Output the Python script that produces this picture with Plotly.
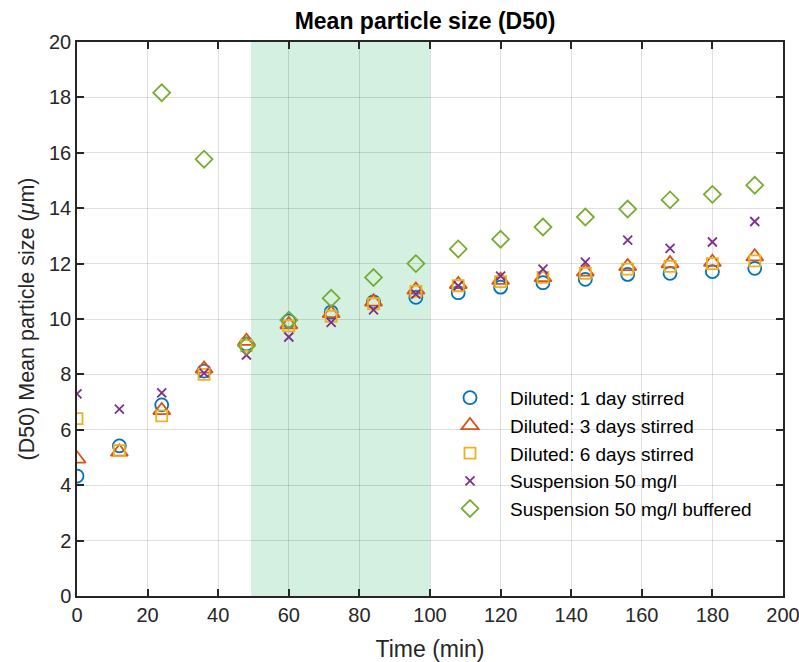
import plotly.graph_objects as go

# Sampling times (min)
time_min = [0, 12, 24, 36, 48, 60, 72, 84, 96, 108, 120, 132, 144, 156, 168, 180, 192]

# D50 values (um) per sample series
diluted_1day = [4.33, 5.42, 6.9, 8.12, 9.1, 9.93, 10.25, 10.62, 10.78, 10.95, 11.15, 11.31, 11.43, 11.61, 11.65, 11.71, 11.83]
diluted_3days = [4.95, 5.2, 6.7, 8.2, 9.2, 9.8, 10.2, 10.62, 11.05, 11.25, 11.4, 11.5, 11.7, 11.9, 12.0, 12.05, 12.25]
diluted_6days = [6.4, 5.25, 6.5, 8.0, 9.05, 9.75, 10.1, 10.55, 11.0, 11.2, 11.35, 11.5, 11.65, 11.8, 11.9, 12.0, 12.1]
suspension = [7.3, 6.75, 7.33, 8.05, 8.7, 9.35, 9.88, 10.33, 10.9, 11.2, 11.55, 11.8, 12.05, 12.85, 12.55, 12.78, 13.52]
buffered_time = [24, 36, 48, 60, 72, 84, 96, 108, 120, 132, 144, 156, 168, 180, 192]
buffered = [18.17, 15.77, 9.03, 9.96, 10.75, 11.5, 12.0, 12.53, 12.88, 13.32, 13.68, 13.97, 14.3, 14.5, 14.83]

# Highlighted time window (min)
window_start, window_end = 49.3, 100

FONT = "Liberation Sans"
AXIS_COLOR = "#262626"

series = [
    ("Diluted: 1 day stirred", time_min, diluted_1day, "circle-open", 13, "#0072BD"),
    ("Diluted: 3 days stirred", time_min, diluted_3days, "triangle-up-open", 15, "#D95319"),
    ("Diluted: 6 days stirred", time_min, diluted_6days, "square-open", 11, "#EDB120"),
    ("Suspension 50 mg/l", time_min, suspension, "x-thin-open", 9, "#7E2F8E"),
    ("Suspension 50 mg/l buffered", buffered_time, buffered, "diamond-open", 13, "#77AC30"),
]

fig = go.Figure()
for name, xs, ys, sym, size, color in series:
    fig.add_trace(go.Scatter(
        x=xs, y=ys, mode="markers", name=name,
        marker=dict(symbol=sym, size=size, color=color,
                    line=dict(color=color, width=1.8)),
    ))

fig.add_shape(type="rect", xref="x", yref="y",
              x0=window_start, x1=window_end, y0=0, y1=20,
              fillcolor="rgb(212,240,225)", line=dict(width=0), layer="below")

axis_common = dict(
    showline=True, linecolor=AXIS_COLOR, linewidth=1.5, mirror="allticks",
    ticks="inside", ticklen=7, tickwidth=1.5, tickcolor=AXIS_COLOR,
    showgrid=True, gridcolor="rgba(0,0,0,0.12)", gridwidth=1,
    zeroline=False, automargin=False, ticklabeloverflow="allow",
    tickfont=dict(family=FONT, size=20, color=AXIS_COLOR),
)

fig.update_xaxes(range=[0, 200], tick0=0, dtick=20,
                 title=dict(text="Time (min)", font=dict(family=FONT, size=23, color=AXIS_COLOR), standoff=18),
                 **axis_common)
fig.update_yaxes(range=[0, 20], tick0=0, dtick=2,
                 title=dict(text="(D50) Mean particle size (<i>μ</i>m)", font=dict(family=FONT, size=21.5, color=AXIS_COLOR), standoff=8),
                 **axis_common)

fig.update_layout(
    width=799, height=662,
    margin=dict(l=77, r=16, t=42, b=66),
    plot_bgcolor="white", paper_bgcolor="white",
    title=dict(text="<b>Mean particle size (D50)</b>", x=0.532, xanchor="center",
               y=0.968, yanchor="middle",
               font=dict(family=FONT, size=23, color="black")),
    legend=dict(x=0.5, y=0.392, xanchor="left", yanchor="top",
                bgcolor="rgba(0,0,0,0)", borderwidth=0,
                font=dict(family=FONT, size=19, color="black"),
                itemwidth=70, tracegroupgap=0),
    showlegend=True,
)

fig.write_html("out.html")
